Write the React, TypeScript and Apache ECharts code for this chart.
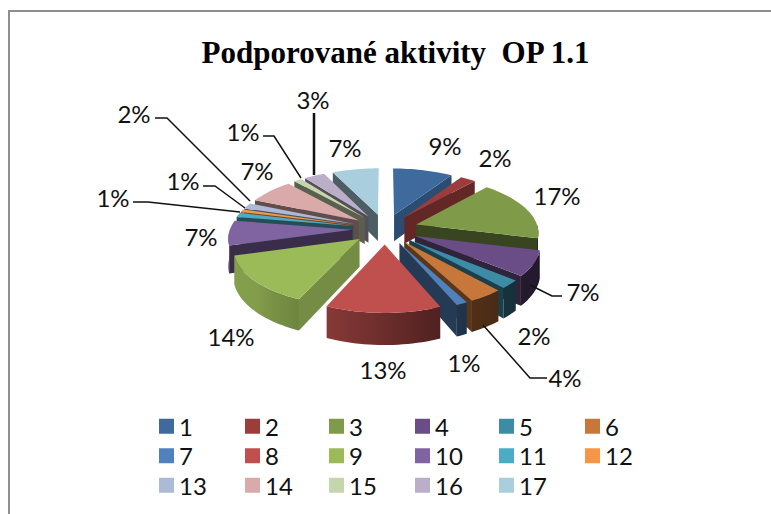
import React, { useEffect, useRef } from "react";
import * as echarts from "echarts";

const TITLE = "Podporované aktivity  OP 1.1";
const categories = ["1","2","3","4","5","6","7","8","9","10","11","12","13","14","15","16","17"];
const values = [9.3,2.4,17.7,7.3,2.4,4.0,1.3,13.2,14.2,7.2,1.3,0.8,1.7,7.2,1.3,3.2,7.2];
const percentLabels = ["9%","2%","17%","7%","2%","4%","1%","13%","14%","7%","1%","1%","2%","7%","1%","3%","7%"];
const colors = ["#3f6a9e","#9c3d3b","#7f9a48","#6a4d86","#3c8ca6","#c8773a","#4f81bd","#c0504d","#9bbb59","#8064a2","#4bacc6","#f79646","#aabad7","#d9aaa9","#c6d6ac","#baaec9","#a9cede"];

// label centres
const labelPos: number[][] = [[445,145],[495,157],[557,195],[583,291],[534,335],[565,377],[464,362],[383,369],[231,336],[201,236],[113,197],[183,180],[134,113],[257,170],[243,131],[313,99],[345,147]];
// leader lines
const leaders: { pts: number[][]; w: number }[] = [
  { pts: [[530,285],[552,296],[562,296]], w: 1.5 },
  { pts: [[483,325],[530,378],[547,378]], w: 1.5 },
  { pts: [[133,202],[148,202],[240,212]], w: 1.5 },
  { pts: [[203,186],[215,186],[245,208]], w: 1.5 },
  { pts: [[155,118],[167,118],[250,201]], w: 1.5 },
  { pts: [[263,136],[274,136],[301,178]], w: 1.5 },
  { pts: [[314,113],[314,175]], w: 2.5 },
];
const legendColumns = [[0,6,12],[1,7,13],[2,8,14],[3,9,15],[4,10,16],[5,11]];
const legendLeft = [159,245,329,415,499,585];

// projection
const CX = 385, CY = 229, RX = 122, RY = 55.6, P = 0.125, EXPLODE = 0.27, H = 27;
const total = values.reduce((a, b) => a + b, 0);
const starts: number[] = [];
values.reduce((acc, v, i) => { starts[i] = (acc / total) * Math.PI * 2; return acc + v; }, 0);
const ends = values.map((v, i) => starts[i] + (v / total) * Math.PI * 2);
const mids = values.map((_, i) => (starts[i] + ends[i]) / 2);

function project(u: number, v: number, drop = 0): number[] {
  const s = 1 / (1 - P * v);
  return [CX + u * RX * s, CY + v * RY * s + drop * H * s];
}

function shade(hex: string, f: number): string {
  const n = parseInt(hex.slice(1), 16);
  const r = Math.round(((n >> 16) & 255) * f), g = Math.round(((n >> 8) & 255) * f), b = Math.round((n & 255) * f);
  return `rgb(${r},${g},${b})`;
}

const deg = (t: number) => (((t * 180) / Math.PI) % 360 + 360) % 360;

// lighting of a flat radial wall, from the direction of its normal
function radialFactor(normal: number): number {
  const d = deg(normal);
  const k = Math.max(0, Math.min(1, (150 - d) / 30));
  return 0.45 + 0.3 * k;
}

// lighting of the rim wall
const rimStops = [[90, 0.3], [130, 0.35], [155, 0.4], [202, 0.7], [230, 0.85], [270, 0.85]];
function rimFactor(t: number): number {
  const d = deg(t);
  for (let i = 1; i < rimStops.length; i++) {
    if (d <= rimStops[i][0]) {
      const [a, fa] = rimStops[i - 1], [b, fb] = rimStops[i];
      return fa + ((fb - fa) * Math.max(0, d - a)) / (b - a);
    }
  }
  return 0.85;
}

function sliceShapes(i: number) {
  const color = colors[i];
  const a0 = starts[i], a1 = ends[i], m = mids[i];
  const ou = Math.sin(m) * EXPLODE, ov = -Math.cos(m) * EXPLODE;
  const rim = (t: number, d = 0) => project(ou + Math.sin(t), ov - Math.cos(t), d);
  const tip = (d = 0) => project(ou, ov, d);
  const out: any[] = [];
  const poly = (pts: number[][], fill: any) => out.push({
    type: "polygon", shape: { points: pts },
    style: { fill },
  });
  if (Math.sin(a0) < 0) {
    poly([tip(), rim(a0), rim(a0, 1), tip(1)], shade(color, radialFactor(a0 - Math.PI / 2)));
  }
  if (Math.sin(a1) > 0) {
    poly([tip(), rim(a1), rim(a1, 1), tip(1)], shade(color, radialFactor(a1 + Math.PI / 2)));
  }
  const w0 = Math.max(a0, Math.PI / 2), w1 = Math.min(a1, Math.PI * 1.5);
  if (w1 > w0) {
    const n = Math.max(2, Math.ceil((w1 - w0) / (Math.PI / 90)));
    const up: number[][] = [], dn: number[][] = [];
    const samples: { x: number; t: number }[] = [];
    for (let k = 0; k <= n; k++) {
      const t = w0 + ((w1 - w0) * k) / n;
      up.push(rim(t)); dn.push(rim(t, 1));
      samples.push({ x: rim(t)[0], t });
    }
    const xs = samples.map((s) => s.x);
    const xmin = Math.min(...xs), xmax = Math.max(...xs);
    const picks = [0, 0.25, 0.5, 0.75, 1].map((f) => samples[Math.round(f * n)]);
    const stops = picks
      .map((s) => ({ offset: (s.x - xmin) / (xmax - xmin || 1), color: shade(color, rimFactor(s.t)) }))
      .sort((a, b) => a.offset - b.offset);
    poly([...up, ...dn.reverse()], new echarts.graphic.LinearGradient(0, 0, 1, 0, stops));
  }
  const step = Math.PI / 90;
  const top: number[][] = [tip()];
  const n = Math.max(2, Math.ceil((a1 - a0) / step));
  for (let k = 0; k <= n; k++) top.push(rim(a0 + ((a1 - a0) * k) / n));
  poly(top, color);
  return out;
}

const paintOrder = categories.map((_, i) => i).sort((a, b) => -Math.cos(mids[a]) - -Math.cos(mids[b]));

export default function App() {
  const ref = useRef<HTMLDivElement>(null);
  useEffect(() => {
    document.body.style.margin = "0";
    const chart = echarts.init(ref.current!, undefined, { renderer: "svg" });
    const font = "Lato";
    chart.setOption({
      animation: false,
      backgroundColor: "#ffffff",
      legend: legendColumns.map((col, c) => ({
        orient: "vertical",
        left: legendLeft[c],
        top: 413,
        padding: 0,
        itemWidth: 15,
        itemHeight: 15,
        itemGap: 3,
        selectedMode: false,
        icon: "rect",
        textStyle: { fontFamily: font, fontSize: 24, color: "#111", padding: [0, 0, 0, 0], lineHeight: 26.5 },
        data: col.map((i) => categories[i]),
      })),
      series: paintOrder.map((i) => ({
        type: "custom",
        name: categories[i],
        coordinateSystem: "none",
        itemStyle: { color: colors[i] },
        data: [[values[i]]],
        renderItem: () => ({ type: "group", children: sliceShapes(i) }),
      })),
      graphic: [
        { type: "polyline", silent: true, shape: { points: [[9, 514], [9, 11], [771, 11]] }, style: { fill: "none", stroke: "#8e8e8e", lineWidth: 2 } },
        { type: "text", x: 395.5, y: 52, style: { text: TITLE, fill: "#000", font: "bold 31px 'Liberation Serif'", textAlign: "center", textVerticalAlign: "middle" } },
        ...leaders.map((l) => ({ type: "polyline", z: 20, silent: true, shape: { points: l.pts }, style: { fill: "none", stroke: "#111", lineWidth: l.w } })),
        ...percentLabels.map((t, i) => ({
          type: "text", z: 20, x: labelPos[i][0], y: labelPos[i][1],
          style: { text: t, fill: "#111", font: `24px ${font}`, textAlign: "center", textVerticalAlign: "middle" },
        })),
      ],
    });
    return () => chart.dispose();
  }, []);
  return <div ref={ref} style={{ width: 771, height: 514 }} />;
}
